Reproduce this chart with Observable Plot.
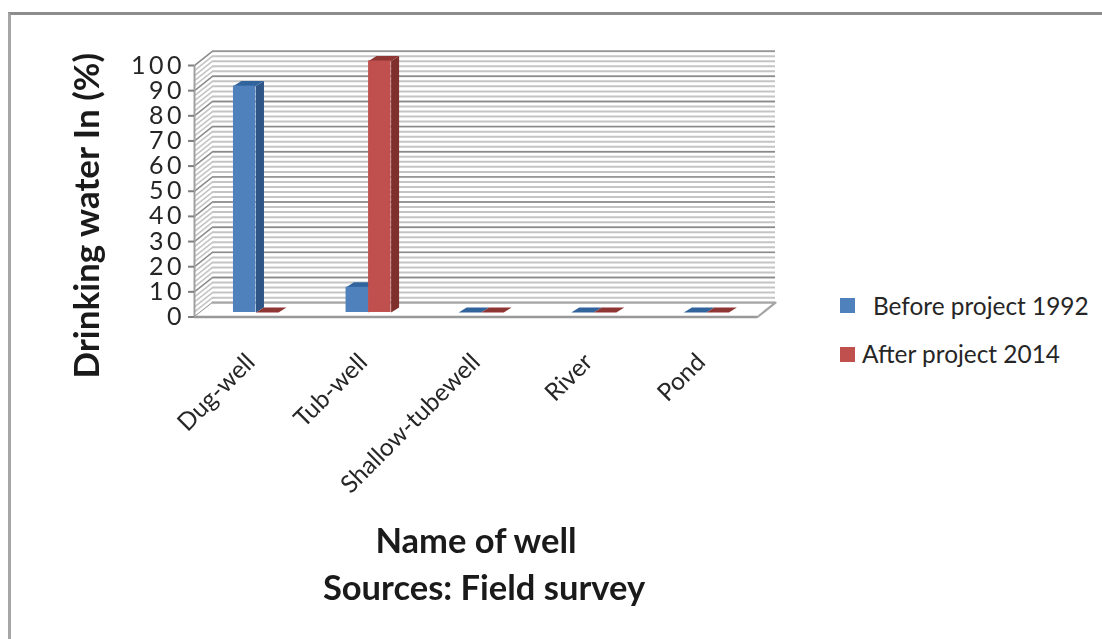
<!DOCTYPE html>
<html>
<head>
<meta charset="utf-8">
<script src="https://cdn.jsdelivr.net/npm/d3@7"></script>
<script src="https://cdn.jsdelivr.net/npm/@observablehq/plot@0.6"></script>
<style>
  html, body { margin: 0; padding: 0; background: #fff; }
  #page { position: relative; width: 1102px; height: 639px; overflow: hidden; font-family: Lato, "Open Sans", sans-serif; color: #262626; }
  #frame { position: absolute; left: 8px; top: 12px; width: 1200px; height: 800px; border-left: 3px solid #a6a6a6; border-top: 3px solid #8c8c8c; }
  #chart { position: absolute; left: 0; top: 0; }
  .key { position: absolute; font-size: 24.4px; line-height: 28px; white-space: nowrap; }
  .swatch { position: absolute; width: 15px; height: 15px; }
</style>
</head>
<body>
<div id="page">
  <div id="frame"></div>
  <div id="chart"></div>
  <div class="swatch" style="left:840px;top:298px;background:#4f81bd"></div>
  <div class="key" style="left:873px;top:292px">Before project 1992</div>
  <div class="swatch" style="left:840px;top:347px;background:#c0504d"></div>
  <div class="key" style="left:862px;top:340px">After project 2014</div>
</div>
<script>
const categories = ["Dug-well", "Tub-well", "Shallow-tubewell", "River", "Pond"];
const before1992 = [90, 10, 0, 0, 0];
const after2014 = [0, 100, 0, 0, 0];
const yTicks = [0, 10, 20, 30, 40, 50, 60, 70, 80, 90, 100];
const minorGrid = d3.range(0, 101, 2);

// Projection of the fake 3-D box, in data units
const wallDx = 0.16, wallDy = 5.7;
const barStart = 0.346, barWidth = 0.2, barBase = 1.8, barDx = 0.071, barDy = 2;
const tickLength = 0.053;

const series = [
  {values: before1992, offset: 0, front: "#4f81bd", side: "#2f5586", top: "#31639c"},
  {values: after2014, offset: barWidth, front: "#c0504d", side: "#7f302d", top: "#8f3533"}
];

function quad(id, a, b, c, d) {
  return [a, b, c, d].map(([x, y]) => ({id, x, y}));
}
const n = categories.length;

function barMarks(s) {
  const fronts = [], sides = [], tops = [];
  s.values.forEach((v, i) => {
    const x1 = i + barStart + s.offset, x2 = x1 + barWidth, y1 = barBase, y2 = barBase + v;
    fronts.push({x1, x2, y1, y2});
    sides.push(...quad(i, [x2, y1], [x2 + barDx, y1 + barDy], [x2 + barDx, y2 + barDy], [x2, y2]));
    tops.push(...quad(i, [x1, y2], [x2, y2], [x2 + barDx, y2 + barDy], [x1 + barDx, y2 + barDy]));
  });
  return [
    Plot.line(sides, {x: "x", y: "y", z: "id", fill: s.side, stroke: "none"}),
    Plot.line(tops, {x: "x", y: "y", z: "id", fill: s.top, stroke: "none"}),
    Plot.rect(fronts, {x1: "x1", x2: "x2", y1: "y1", y2: "y2", fill: s.front})
  ];
}

const floor = quad("floor", [0, 0], [n, 0], [n + wallDx, wallDy], [wallDx, wallDy]);

const plot = Plot.plot({
  width: 1102,
  height: 639,
  marginLeft: 194,
  marginRight: 345,
  marginTop: 65,
  marginBottom: 322.5,
  style: {background: "transparent", color: "#262626", fontFamily: "Lato, 'Open Sans', sans-serif"},
  x: {domain: [0, n], axis: null},
  y: {domain: [0, 100], axis: null},
  marks: [
    // back wall gridlines
    Plot.ruleY(minorGrid, {x1: wallDx, x2: n + wallDx, y: d => d + wallDy, stroke: "#c4c4c4", strokeWidth: 2}),
    Plot.ruleY(yTicks, {x1: wallDx, x2: n + wallDx, y: d => d + wallDy, stroke: "#8a8a8a", strokeWidth: 1.4}),
    // side wall gridlines
    Plot.link(minorGrid, {x1: 0, x2: wallDx, y1: d => d, y2: d => d + wallDy, stroke: "#c4c4c4", strokeWidth: 1.6}),
    Plot.link(yTicks, {x1: 0, x2: wallDx, y1: d => d, y2: d => d + wallDy, stroke: "#8a8a8a", strokeWidth: 1.3}),
    // floor
    Plot.line(floor, {x: "x", y: "y", fill: "#fff", stroke: "#a6a6a6", strokeWidth: 2.2}),
    Plot.ruleY([0], {x1: 0, x2: n, stroke: "#999", strokeWidth: 2.6}),
    Plot.ruleX([0], {y1: 0, y2: 100, stroke: "#a0a0a0", strokeWidth: 2}),
    // bars
    ...series.flatMap(barMarks),
    // y axis
    Plot.ruleY(yTicks, {x1: -tickLength, x2: 0, stroke: "#808080", strokeWidth: 2}),
    Plot.text(yTicks, {x: 0, y: d => d, text: d => String(d), textAnchor: "end", lineAnchor: "middle", fontSize: 25, dx: -9.5, fill: "#262626"}),
    // category labels
    Plot.text(categories, {x: (d, i) => i + 0.5, y: 0, text: d => d, rotate: -45, textAnchor: "end", lineAnchor: "middle", fontSize: 24.5, dx: 0, dy: 41, fill: "#262626"}),
    // axis titles
    Plot.text(["Drinking water In (%)"], {frameAnchor: "left", rotate: -90, textAnchor: "middle", lineAnchor: "middle", fontSize: 35, fontWeight: 700, dx: -107, dy: 24.5, fill: "#1a1a1a"}),
    Plot.text(["Name of well"], {frameAnchor: "bottom", lineAnchor: "middle", fontSize: 34.5, fontWeight: 700, dy: 224.5, fill: "#1a1a1a"}),
    Plot.text(["Sources: Field survey"], {frameAnchor: "bottom", lineAnchor: "middle", fontSize: 34.5, fontWeight: 700, dx: 8, dy: 271.5, fill: "#1a1a1a"})
  ]
});
// The reference's digits are wider than Lato's: open up the tick labels
const tickNames = new Set(yTicks.map(String));
d3.select(plot).selectAll("text")
  .filter(function () { return tickNames.has(this.textContent); })
  .style("letter-spacing", "3.5px");
plot.style.filter = "blur(0.5px)";
document.getElementById("chart").append(plot);
</script>
</body>
</html>
